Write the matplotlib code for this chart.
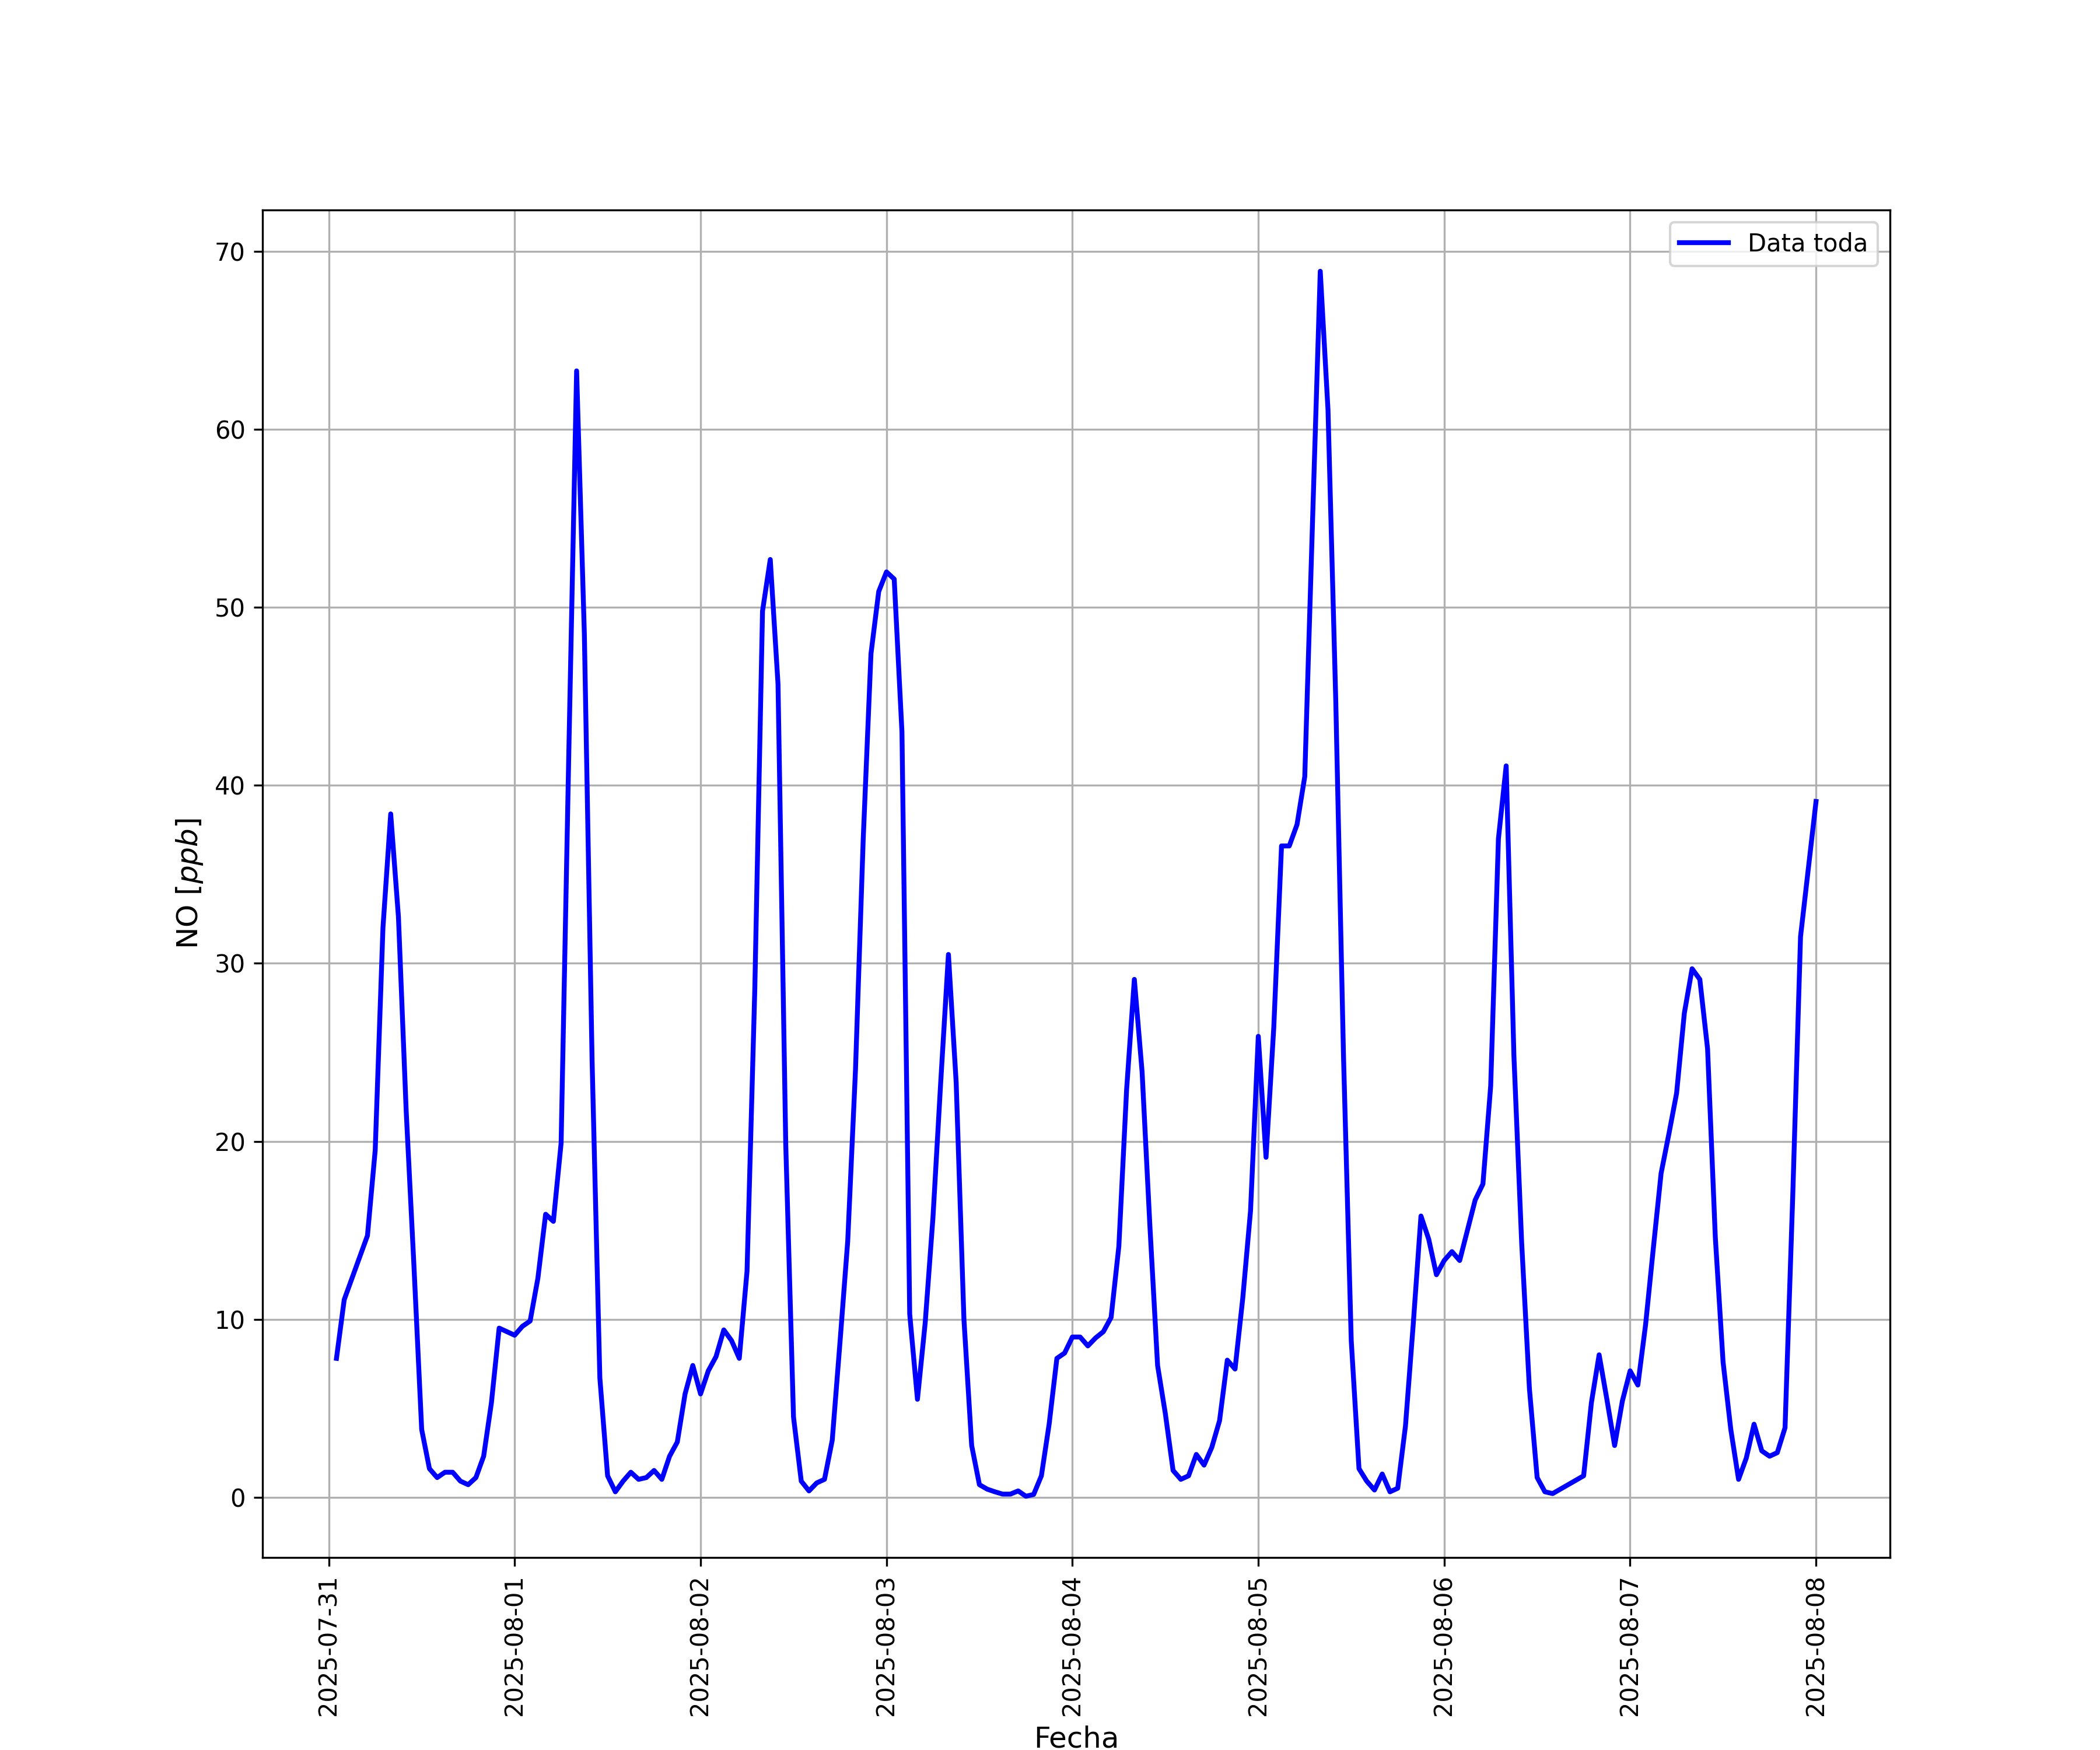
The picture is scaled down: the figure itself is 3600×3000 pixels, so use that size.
import pandas as pd
import matplotlib
matplotlib.use("Agg")
import matplotlib.pyplot as plt
import matplotlib.dates as mdates

# NO hourly values [ppb], one list per day
no_0731 = [7.8, 11.1, 12.3, 13.5, 14.7, 19.5, 32.0, 38.4, 32.6, 21.7, 13.0, 3.8,
           1.6, 1.1, 1.4, 1.4, 0.9, 0.7, 1.1, 2.3, 5.3, 9.5, 9.3]
no_0801 = [9.1, 9.6, 9.9, 12.3, 15.9, 15.5, 19.9, 42.0, 63.3, 48.5, 24.5, 6.7,
           1.2, 0.3, 0.9, 1.4, 1.0, 1.1, 1.5, 1.0, 2.3, 3.1, 5.8, 7.4]
no_0802 = [5.8, 7.1, 7.9, 9.4, 8.8, 7.8, 12.7, 28.5, 49.8, 52.7, 45.7, 19.8,
           4.5, 0.9, 0.35, 0.8, 1.0, 3.2, 8.7, 14.4, 24.0, 37.0, 47.4, 50.9]
no_0803 = [52.0, 51.6, 43.0, 10.3, 5.5, 9.8, 15.7, 23.3, 30.5, 23.3, 10.0, 2.9,
           0.7, 0.45, 0.3, 0.17, 0.17, 0.35, 0.05, 0.15, 1.2, 4.1, 7.8, 8.1]
no_0804 = [9.0, 9.0, 8.5, 8.95, 9.3, 10.1, 14.1, 22.9, 29.1, 23.9, 15.3, 7.4,
           4.7, 1.5, 1.0, 1.2, 2.4, 1.8, 2.8, 4.3, 7.7, 7.2, 11.2, 16.1]
no_0805 = [25.9, 19.1, 26.4, 36.6, 36.6, 37.8, 40.5, 54.8, 68.9, 61.1, 44.8, 24.8,
           8.8, 1.6, 0.9, 0.4, 1.3, 0.3, 0.5, 4.0, 9.7, 15.8, 14.5, 12.5]
no_0806 = [13.3, 13.8, 13.3, 15.0, 16.7, 17.6, 23.1, 37.0, 41.1, 24.8, 14.3, 6.1,
           1.1, 0.3, 0.2, 0.45, 0.7, 0.95, 1.2, 5.3, 8.0, 5.5, 2.9, 5.4]
no_0807 = [7.1, 6.3, 9.7, 14.0, 18.2, 20.4, 22.7, 27.2, 29.7, 29.1, 25.2, 14.6,
           7.6, 3.8, 1.0, 2.2, 4.1, 2.6, 2.3, 2.5, 3.9, 17.0, 31.5, 35.3]
no_0808 = [39.1]

no_values = no_0731 + no_0801 + no_0802 + no_0803 + no_0804 + no_0805 + no_0806 + no_0807 + no_0808
fechas = pd.date_range("2025-07-31 01:00", periods=len(no_values), freq="h")

df = pd.DataFrame({"Fecha": fechas, "NO": no_values})

fig = plt.figure(figsize=(12, 10))
plt.plot(df["Fecha"], df["NO"], color="blue", linewidth=2, label="Data toda")
plt.xlabel("Fecha", fontsize=12)
plt.ylabel("NO [$ppb$]", fontsize=12)
plt.gca().xaxis.set_major_locator(mdates.DayLocator())
plt.gca().xaxis.set_major_formatter(mdates.DateFormatter("%Y-%m-%d"))
plt.xticks(rotation=90)
plt.grid(True)
plt.legend(loc="upper right")
plt.savefig("out.png", dpi=300)
